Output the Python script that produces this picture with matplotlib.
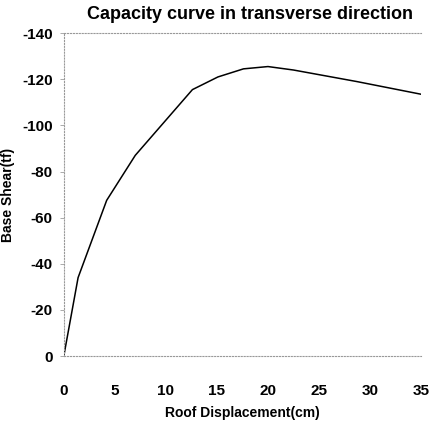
import numpy as np
from matplotlib import pyplot as plt
from matplotlib.ticker import MultipleLocator

plt.rcParams['font.family'] = ['Liberation Sans', 'DejaVu Sans']
plt.rcParams['axes.unicode_minus'] = False

# 位移 (cm) 与基底剪力 (tf)
displacement = [0, 1.4, 4.2, 7.0, 12.6, 15.1, 17.6, 20.0, 22.5, 28.7, 35.0]
base_shear = [0, -34, -67.5, -87, -115.5, -121, -124.5, -125.5, -124, -119, -113.5]

fig = plt.figure(figsize=(4.4, 4.3), dpi=100)
ax = fig.add_axes([0.145, 0.172, 0.812, 0.751])

ax.plot(displacement, base_shear, color='black', linewidth=1.1)

ax.set_xlim(0, 35)
ax.set_ylim(0, -140)
ax.xaxis.set_major_locator(MultipleLocator(5))
ax.yaxis.set_major_locator(MultipleLocator(20))

for side in ['left', 'top', 'bottom']:
    ax.spines[side].set_linestyle(':')
    ax.spines[side].set_color('#999999')
    ax.spines[side].set_linewidth(0.8)
ax.spines['right'].set_visible(False)

ax.tick_params(axis='x', length=0, pad=20, labelsize=11)
ax.tick_params(axis='y', length=3, width=0.5, color='#888888', labelsize=11, pad=5)
for lab in ax.get_xticklabels() + ax.get_yticklabels():
    lab.set_fontweight('bold')

ax.set_xlabel("Roof Displacement(cm)", fontdict={'size': 10, 'weight': 'bold'}, labelpad=6)
ax.set_ylabel("Base Shear(tf)", fontdict={'size': 10, 'weight': 'bold'}, labelpad=5)
ax.set_title("Capacity curve in transverse direction", fontdict={'size': 13, 'weight': 'bold'}, x=0.52, pad=10)

plt.savefig("out.png")
